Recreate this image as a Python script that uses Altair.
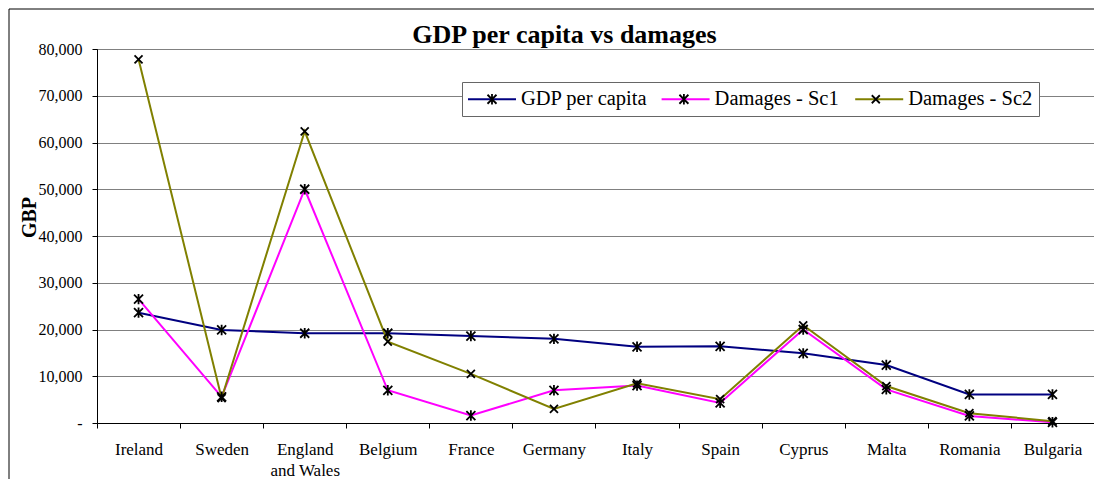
import altair as alt
import pandas as pd

countries = ["Ireland", "Sweden", "England and Wales", "Belgium", "France", "Germany",
             "Italy", "Spain", "Cyprus", "Malta", "Romania", "Bulgaria"]
series_names = ["GDP per capita", "Damages - Sc1", "Damages - Sc2"]
gdp = [23600, 19900, 19200, 19200, 18600, 18000, 16300, 16400, 14900, 12400, 6100, 6100]
sc1 = [26500, 5600, 50000, 7000, 1600, 7000, 8000, 4300, 20000, 7200, 1500, 150]
sc2 = [77800, 5300, 62400, 17400, 10500, 3000, 8500, 5100, 20900, 7900, 2100, 400]
y_ticks = [0, 10000, 20000, 30000, 40000, 50000, 60000, 70000, 80000]

line_colors = ["#000080", "#FF00FF", "#808000"]
STAR = "M-0.45,-0.45L0.45,0.45M-0.45,0.45L0.45,-0.45M0,-0.52L0,0.52"
XMARK = "M-0.4,-0.4L0.4,0.4M-0.4,0.4L0.4,-0.4"
marker_shapes = [STAR, STAR, XMARK]
LEGEND_LINE = "M-2.4,0L2.4,0"

rows = []
for name, vals in zip(series_names, [gdp, sc1, sc2]):
    for c, v in zip(countries, vals):
        rows.append({"country": c, "series": name, "value": v})
df = pd.DataFrame(rows)

FONT = "Liberation Serif"
SYM = 400  # 20px symbol box; paths above are drawn in that unit

x_enc = alt.X(
    "country:N", sort=countries,
    scale=alt.Scale(paddingInner=0, paddingOuter=0),
    axis=alt.Axis(
        title=None, labelAngle=0, tickBand="extent", grid=False,
        labelFont=FONT, labelFontSize=17, labelColor="black",
        labelPadding=13, labelLineHeight=21, tickSize=5,
        tickColor="black", domainColor="black",
        labelExpr="datum.label == 'England and Wales' ? ['England', 'and Wales'] : datum.label",
    ),
)
y_enc = alt.Y(
    "value:Q",
    scale=alt.Scale(domain=[0, 80000], nice=False),
    axis=alt.Axis(
        title="GBP", values=y_ticks, grid=True, gridColor="#808080", gridWidth=1,
        labelFont=FONT, labelFontSize=16, labelColor="black", labelPadding=10,
        tickSize=5, tickColor="black", domainColor="black",
        labelExpr="datum.value == 0 ? '-' : format(datum.value, ',')",
        titleFont=FONT, titleFontSize=20, titleFontWeight="bold", titleColor="black",
        titleAngle=270, titleBaseline="alphabetic", titleX=-62, titleY=168,
        titleAlign="center",
    ),
)

legend_common = dict(
    orient="none", legendX=365, legendY=33, direction="horizontal", columns=3,
    title=None, labelFont=FONT, labelFontSize=20.5, labelOffset=18,
    symbolOffset=13, padding=6, symbolSize=SYM, gridAlign="all",
)

lines = alt.Chart(df).mark_line(strokeWidth=2).encode(
    x=x_enc, y=y_enc,
    color=alt.Color(
        "series:N", sort=series_names,
        scale=alt.Scale(domain=series_names, range=line_colors),
        legend=alt.Legend(
            symbolType=LEGEND_LINE, symbolStrokeWidth=2, labelColor="black",
            fillColor="white", strokeColor="#666666", zindex=1,
            columnPadding=9.6, **legend_common,
        ),
    ),
)

points = alt.Chart(df).transform_calculate(series_m="datum.series").mark_point(
    filled=False, size=SYM, strokeWidth=1.8, color="black", opacity=1
).encode(
    x=x_enc, y=y_enc,
    shape=alt.Shape(
        "series_m:N", sort=series_names,
        scale=alt.Scale(range=marker_shapes),
        legend=alt.Legend(
            labelOpacity=0, labelExpr="' '", symbolStrokeColor="black",
            symbolStrokeWidth=1.8, symbolFillColor="transparent", zindex=2,
            columnPadding=138.9, **legend_common,
        ),
    ),
)

border = alt.Chart(alt.Data(values=[{"k": 1}])).mark_rect(
    filled=False, stroke="black", strokeWidth=1
).encode(
    x=alt.value(-88), x2=alt.value(1023), y=alt.value(-40), y2=alt.value(480)
)

chart = alt.layer(border, lines, points).properties(
    width=997, height=374,
    padding={"left": 89, "top": 41, "right": 0, "bottom": 56},
    autosize=alt.AutoSizeParams(type="none"),
    title=alt.TitleParams(
        "GDP per capita vs damages", font=FONT, fontSize=26, fontWeight="bold",
        color="black", anchor="middle", dx=-31, dy=60, baseline="alphabetic", offset=0,
    ),
).configure_view(stroke="#333333")

chart.save("out.html", embed_options={"renderer": "svg", "actions": False})
